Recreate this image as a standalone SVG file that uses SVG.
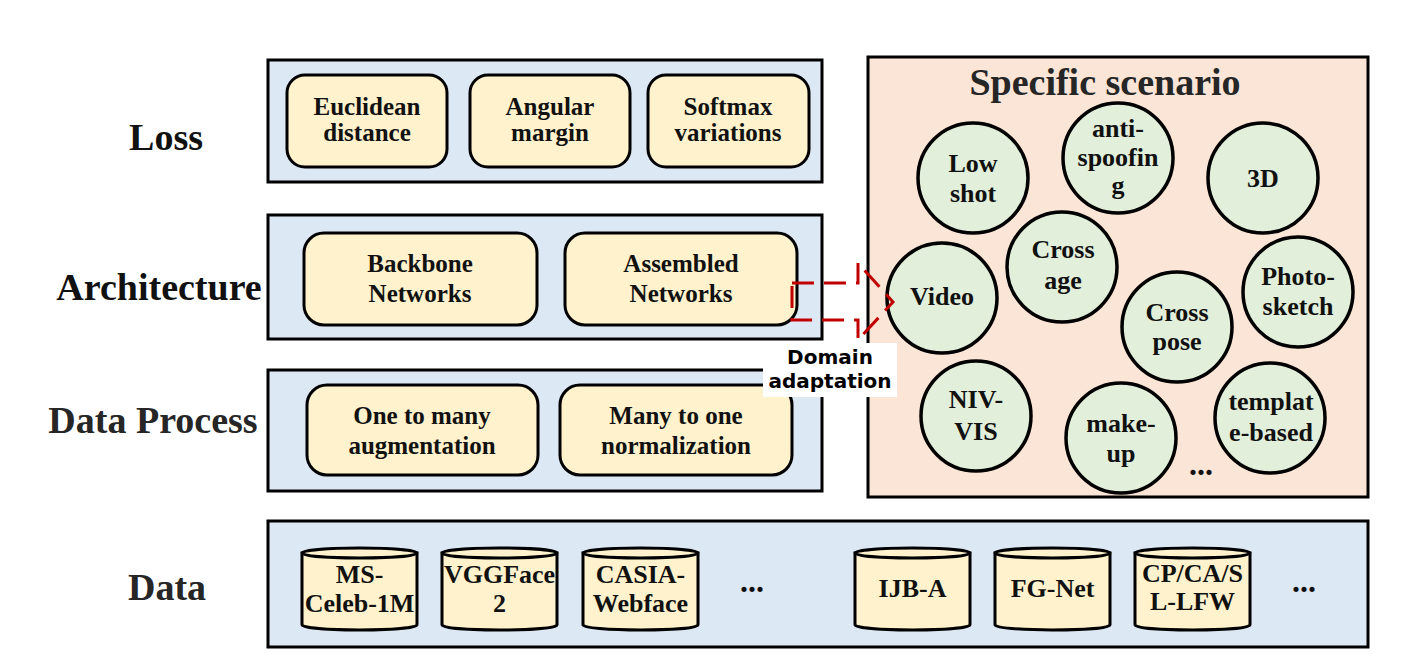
<svg xmlns="http://www.w3.org/2000/svg" width="1416" height="664" viewBox="0 0 1416 664">
<defs>
<style>
.panel{fill:#dde8f5;stroke:#000;stroke-width:3}
.box{fill:#fff2cc;stroke:#000;stroke-width:3}
.scen{fill:#fbe5d6;stroke:#000;stroke-width:3}
.circ{fill:#e2efda;stroke:#000;stroke-width:3.5}
.cyl{fill:#fff2cc;stroke:#000;stroke-width:3}
.t{font-family:"Liberation Serif","Times New Roman",serif;font-weight:bold;font-size:25px;fill:#111;text-anchor:middle}
.tc{font-family:"Liberation Serif","Times New Roman",serif;font-weight:bold;font-size:26px;fill:#111;text-anchor:middle}
.lab{font-family:"Liberation Serif","Times New Roman",serif;font-weight:bold;font-size:38px;fill:#111;text-anchor:middle}
.dots{font-family:"Liberation Serif","Times New Roman",serif;font-weight:bold;font-size:32px;fill:#111;text-anchor:middle}
.da{font-family:"DejaVu Sans","Liberation Sans",sans-serif;font-weight:bold;font-size:20px;fill:#000;text-anchor:middle}
.arrow{fill:none;stroke:#c00000;stroke-width:3;stroke-dasharray:22 10}
</style>
</defs>
<rect width="1416" height="664" fill="#fff"/>

<g id="labels">
<text class="lab" x="166" y="150">Loss</text>
<text class="lab" x="159" y="300">Architecture</text>
<text class="lab" x="153" y="433" style="fill:#262626">Data Process</text>
<text class="lab" x="167" y="600" style="fill:#262626">Data</text>
</g>

<g id="loss">
<rect class="panel" x="268" y="60" width="554" height="122"/>
<g id="euclidean"><rect class="box" x="287" y="75" width="160" height="92" rx="18"/>
<text class="t" x="367" y="115">Euclidean</text><text class="t" x="367" y="141">distance</text></g>
<g id="angular"><rect class="box" x="470" y="75" width="160" height="92" rx="18"/>
<text class="t" x="550" y="115">Angular</text><text class="t" x="550" y="141">margin</text></g>
<g id="softmax"><rect class="box" x="648" y="75" width="161" height="92" rx="18"/>
<text class="t" x="728" y="115">Softmax</text><text class="t" x="728" y="141">variations</text></g>
</g>

<g id="architecture">
<rect class="panel" x="268" y="215" width="554" height="124"/>
<g id="backbone"><rect class="box" x="304" y="233" width="233" height="92" rx="20"/>
<text class="t" x="420" y="272">Backbone</text><text class="t" x="420" y="302">Networks</text></g>
<g id="assembled"><rect class="box" x="565" y="233" width="232" height="92" rx="20"/>
<text class="t" x="681" y="272">Assembled</text><text class="t" x="681" y="302">Networks</text></g>
</g>

<g id="dataprocess">
<rect class="panel" x="268" y="370" width="554" height="121"/>
<g id="onetomany"><rect class="box" x="307" y="385" width="231" height="90" rx="20"/>
<text class="t" x="422" y="424">One to many</text><text class="t" x="422" y="454">augmentation</text></g>
<g id="manytoone"><rect class="box" x="560" y="385" width="232" height="90" rx="20"/>
<text class="t" x="676" y="424">Many to one</text><text class="t" x="676" y="454">normalization</text></g>
</g>

<g id="scenario">
<rect class="scen" x="868" y="57" width="500" height="440"/>
<text x="1105" y="95" style="font-family:'Liberation Serif','Times New Roman',serif;font-weight:bold;font-size:38px;fill:#262626;text-anchor:middle">Specific scenario</text>
<g id="lowshot"><circle class="circ" cx="973" cy="178" r="55"/>
<text class="tc" x="973" y="172">Low</text><text class="tc" x="973" y="202">shot</text></g>
<g id="antispoofing"><circle class="circ" cx="1118" cy="158" r="55"/>
<text class="tc" x="1118" y="137">anti-</text><text class="tc" x="1118" y="166">spoofin</text><text class="tc" x="1118" y="194">g</text></g>
<g id="threeD"><circle class="circ" cx="1263" cy="178" r="55"/>
<text class="tc" x="1263" y="187">3D</text></g>
<g id="crossage"><circle class="circ" cx="1062" cy="267" r="55"/>
<text class="tc" x="1063" y="258">Cross</text><text class="tc" x="1063" y="289">age</text></g>
<g id="video"><circle class="circ" cx="942" cy="298" r="55"/>
<text class="tc" x="942" y="305">Video</text></g>
<g id="photosketch"><circle class="circ" cx="1298" cy="292" r="55"/>
<text class="tc" x="1298" y="285">Photo-</text><text class="tc" x="1298" y="315">sketch</text></g>
<g id="crosspose"><circle class="circ" cx="1177" cy="327" r="55"/>
<text class="tc" x="1177" y="321">Cross</text><text class="tc" x="1177" y="350">pose</text></g>
<g id="nivvis"><circle class="circ" cx="976" cy="416" r="55"/>
<text class="tc" x="976" y="408">NIV-</text><text class="tc" x="976" y="440">VIS</text></g>
<g id="makeup"><circle class="circ" cx="1121" cy="438" r="55"/>
<text class="tc" x="1121" y="432">make-</text><text class="tc" x="1121" y="462">up</text></g>
<g id="templatebased"><circle class="circ" cx="1270" cy="418" r="55"/>
<text class="tc" x="1271" y="410">templat</text><text class="tc" x="1271" y="441">e-based</text></g>
<text class="dots" x="1201" y="475">...</text>
</g>

<g id="data">
<rect class="panel" x="268" y="521" width="1100" height="126"/>
<g id="msceleb"><path class="cyl" d="M302 553V625A57.5 5 0 0 0 417 625V553Z"/><ellipse class="cyl" cx="359.5" cy="553" rx="57.5" ry="5"/>
<text class="tc" x="359.5" y="583">MS-</text><text class="tc" x="359.5" y="612">Celeb-1M</text></g>
<g id="vggface"><path class="cyl" d="M442 553V625A57.5 5 0 0 0 557 625V553Z"/><ellipse class="cyl" cx="499.5" cy="553" rx="57.5" ry="5"/>
<text class="tc" x="499.5" y="583">VGGFace</text><text class="tc" x="499.5" y="612">2</text></g>
<g id="casia"><path class="cyl" d="M583 553V625A57.5 5 0 0 0 698 625V553Z"/><ellipse class="cyl" cx="640.5" cy="553" rx="57.5" ry="5"/>
<text class="tc" x="640.5" y="583">CASIA-</text><text class="tc" x="640.5" y="612">Webface</text></g>
<text class="dots" x="752" y="592">...</text>
<g id="ijba"><path class="cyl" d="M855 553V625A57.5 5 0 0 0 970 625V553Z"/><ellipse class="cyl" cx="912.5" cy="553" rx="57.5" ry="5"/>
<text class="tc" x="912.5" y="597">IJB-A</text></g>
<g id="fgnet"><path class="cyl" d="M995 553V625A57.5 5 0 0 0 1110 625V553Z"/><ellipse class="cyl" cx="1052.5" cy="553" rx="57.5" ry="5"/>
<text class="tc" x="1052.5" y="597">FG-Net</text></g>
<g id="cpcasl"><path class="cyl" d="M1135 553V625A57.5 5 0 0 0 1250 625V553Z"/><ellipse class="cyl" cx="1192.5" cy="553" rx="57.5" ry="5"/>
<text class="tc" x="1192.5" y="582">CP/CA/S</text><text class="tc" x="1192.5" y="610">L-LFW</text></g>
<text class="dots" x="1304" y="592">...</text>
</g>

<g id="connectors">
<path class="arrow" d="M792 283H858V263L893 302L858 340V320H792Z"/>
<rect x="763" y="343" width="134" height="54" fill="#fff"/>
<text class="da" x="830" y="364">Domain</text>
<text class="da" x="830" y="388">adaptation</text>
</g>
</svg>
